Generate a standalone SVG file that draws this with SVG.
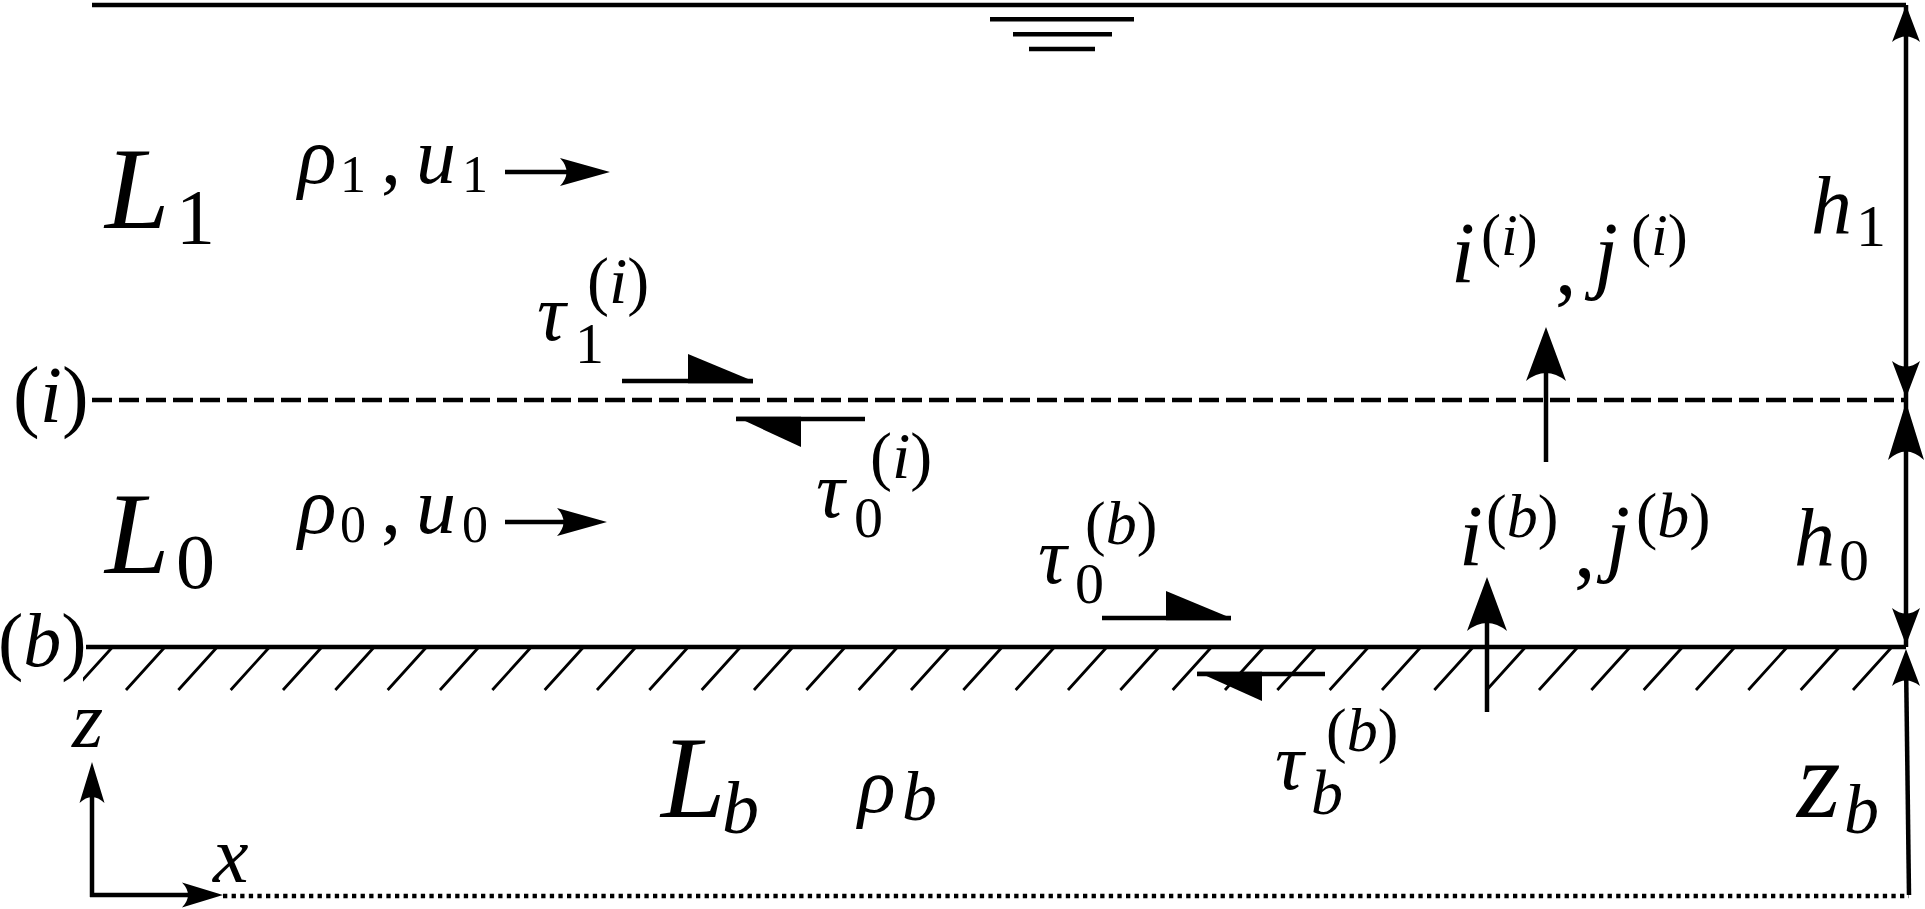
<svg xmlns="http://www.w3.org/2000/svg" width="1925" height="909" viewBox="0 0 1925 909">
<style>
 .ln{stroke:#000;fill:none;stroke-width:4.5}
 .thin{stroke:#000;fill:none;stroke-width:2.8}
 .hd{fill:#000;stroke:none}
</style>
<defs>
 <path id="ahS" d="M0,0 L-37,-14 Q-26,0 -37,14 Z"/>
 <path id="ahL" d="M0,0 L-58,-18 Q-41,0 -58,18 Z"/>
 <path id="ahF" d="M0,0 L-54,-20 Q-38,0 -54,20 Z"/>
 <path id="ahA" d="M0,0 L-41,-12.5 Q-29,0 -41,12.5 Z"/>
 <path id="ahV" d="M0,0 L-50,-14 Q-37,0 -50,14 Z"/>
 <clipPath id="hclip"><rect x="83" y="647" width="1823" height="44"/></clipPath>
</defs>
<rect width="1925" height="909" fill="#fff"/>

<g id="surface">
 <path class="ln" d="M92,5 H1906" stroke-width="5"/>
 <path class="ln" d="M990,19.3 H1134" stroke-width="3.3"/>
 <path class="ln" d="M1013,34.3 H1112" stroke-width="2.7"/>
 <path class="ln" d="M1029,49 H1095" stroke-width="2.3"/>
</g>

<g id="interface-i">
 <path class="ln" d="M92,400 H1906" stroke-width="4" stroke-dasharray="20 7"/>
</g>

<g id="bed-b">
 <path class="ln" d="M86,647 H1906"/>
 <path class="thin" clip-path="url(#hclip)" d="M73.67,690 l38,-42 M126,690 l38,-42 M178.33,690 l38,-42 M230.67,690 l38,-42 M283,690 l38,-42 M335.33,690 l38,-42 M387.67,690 l38,-42 M440,690 l38,-42 M492.33,690 l38,-42 M544.67,690 l38,-42 M597,690 l38,-42 M649.33,690 l38,-42 M701.67,690 l38,-42 M754,690 l38,-42 M806.33,690 l38,-42 M858.67,690 l38,-42 M911,690 l38,-42 M963.33,690 l38,-42 M1015.67,690 l38,-42 M1068,690 l38,-42 M1120.33,690 l38,-42 M1172.67,690 l38,-42 M1225,690 l38,-42 M1277.33,690 l38,-42 M1329.67,690 l38,-42 M1382,690 l38,-42 M1434.33,690 l38,-42 M1486.67,690 l38,-42 M1539,690 l38,-42 M1591.33,690 l38,-42 M1643.67,690 l38,-42 M1696,690 l38,-42 M1748.33,690 l38,-42 M1800.67,690 l38,-42 M1853,690 l38,-42 M1905.33,690 l38,-42"/>
</g>

<g id="datum">
 <path class="ln" d="M223,896 H1909" stroke-width="4" stroke-dasharray="4.3 4.3"/>
</g>

<g id="connectors">
 <path class="ln" d="M1906,5 V647" stroke-width="3.5"/>
 <path class="ln" d="M1909,895 L1906,660" stroke-width="3.5"/>
 <use href="#ahS" class="hd" transform="translate(1906,5) rotate(-90)"/>
 <use href="#ahS" class="hd" transform="translate(1906,398) rotate(90)"/>
 <use href="#ahL" class="hd" transform="translate(1906,402) rotate(-90)"/>
 <use href="#ahS" class="hd" transform="translate(1906,645) rotate(90)"/>
 <use href="#ahS" class="hd" transform="translate(1906,649) rotate(-90)"/>
 <path class="ln" d="M1546,462 V360" stroke-width="4"/>
 <use href="#ahF" class="hd" transform="translate(1546,327) rotate(-90)"/>
 <path class="ln" d="M1487,712 V610" stroke-width="4"/>
 <use href="#ahF" class="hd" transform="translate(1487,577) rotate(-90)"/>
 <path class="ln" d="M505,172 H590" stroke-width="3"/>
 <use href="#ahV" class="hd" transform="translate(610,172)"/>
 <path class="ln" d="M505,522 H588" stroke-width="3"/>
 <use href="#ahV" class="hd" transform="translate(607,522)"/>
 <path class="ln" d="M92,897 V785"/>
 <use href="#ahA" class="hd" transform="translate(92,762) rotate(-90)"/>
 <path class="ln" d="M90,895 H200"/>
 <use href="#ahA" class="hd" transform="translate(223,895)"/>
 <path class="ln" d="M622,381 H753"/>
 <polygon class="hd" points="688,354 753,381 753,383.2 688,383.2"/>
 <path class="ln" d="M736,419 H865"/>
 <polygon class="hd" points="736,416.8 801,416.8 801,447"/>
 <path class="ln" d="M1102,618 H1231"/>
 <polygon class="hd" points="1166,591 1231,618 1231,620.2 1166,620.2"/>
 <path class="ln" d="M1197,674 H1325"/>
 <polygon class="hd" points="1197,671.8 1262,671.8 1262,701"/>
</g>

<g id="label-i-left"><text font-family="Liberation Serif, serif" x="13" y="422" font-size="80">(<tspan font-style="italic">i</tspan>)</text></g>
<g id="label-b-left"><text font-family="Liberation Serif, serif" x="-2" y="666" font-size="76">(<tspan font-style="italic">b</tspan>)</text></g>

<g id="layer-L1"><text font-family="Liberation Serif, serif" font-style="italic" font-size="116"><tspan x="105" y="228">L</tspan><tspan font-style="normal" x="176" y="243" font-size="78">1</tspan></text></g>
<g id="layer-L0"><text font-family="Liberation Serif, serif" font-style="italic" font-size="116"><tspan x="105" y="573">L</tspan><tspan font-style="normal" x="176" y="588" font-size="78">0</tspan></text></g>
<g id="layer-Lb"><text font-family="Liberation Serif, serif" font-style="italic" font-size="116"><tspan x="661" y="817">L</tspan><tspan x="722" y="833" font-size="74">b</tspan></text></g>

<g id="props-1"><text font-family="Liberation Serif, serif" font-style="italic" font-size="80"><tspan x="298" y="183">ρ</tspan><tspan font-style="normal" x="340" y="192" font-size="52">1</tspan><tspan font-style="normal" x="381" y="183">,</tspan><tspan x="416" y="183">u</tspan><tspan font-style="normal" x="462" y="192" font-size="52">1</tspan></text></g>
<g id="props-0"><text font-family="Liberation Serif, serif" font-style="italic" font-size="80"><tspan x="298" y="533">ρ</tspan><tspan font-style="normal" x="340" y="542" font-size="52">0</tspan><tspan font-style="normal" x="381" y="533">,</tspan><tspan x="416" y="533">u</tspan><tspan font-style="normal" x="462" y="542" font-size="52">0</tspan></text></g>
<g id="props-b"><text font-family="Liberation Serif, serif" font-style="italic" font-size="78"><tspan x="858" y="812">ρ</tspan><tspan x="902" y="820" font-size="70">b</tspan></text></g>

<g id="tau1i"><text font-family="Liberation Serif, serif" font-style="italic" font-size="80"><tspan x="537" y="340">τ</tspan><tspan font-style="normal" x="575" y="363" font-size="58">1</tspan><tspan font-style="normal" x="587" y="303" font-size="66">(<tspan font-style="italic">i</tspan>)</tspan></text></g>
<g id="tau0i"><text font-family="Liberation Serif, serif" font-style="italic" font-size="80"><tspan x="816" y="517">τ</tspan><tspan font-style="normal" x="854" y="537" font-size="58">0</tspan><tspan font-style="normal" x="870" y="478" font-size="66">(<tspan font-style="italic">i</tspan>)</tspan></text></g>
<g id="tau0b"><text font-family="Liberation Serif, serif" font-style="italic" font-size="80"><tspan x="1038" y="583">τ</tspan><tspan font-style="normal" x="1075" y="603" font-size="58">0</tspan><tspan font-style="normal" x="1085" y="544" font-size="62">(<tspan font-style="italic">b</tspan>)</tspan></text></g>
<g id="taubb"><text font-family="Liberation Serif, serif" font-style="italic" font-size="80"><tspan x="1275" y="789">τ</tspan><tspan x="1311" y="814" font-size="64">b</tspan><tspan font-style="normal" x="1326" y="751" font-size="62">(<tspan font-style="italic">b</tspan>)</tspan></text></g>

<g id="flux-i"><text font-family="Liberation Serif, serif" font-style="italic" font-size="86"><tspan x="1451" y="282">i</tspan><tspan font-style="normal" x="1481" y="255" font-size="60">(<tspan font-style="italic">i</tspan>)</tspan><tspan font-style="normal" x="1555" y="294">,</tspan><tspan x="1594" y="282">j</tspan><tspan font-style="normal" x="1631" y="255" font-size="60">(<tspan font-style="italic">i</tspan>)</tspan></text></g>
<g id="flux-b"><text font-family="Liberation Serif, serif" font-style="italic" font-size="86"><tspan x="1459" y="565">i</tspan><tspan font-style="normal" x="1486" y="537" font-size="62">(<tspan font-style="italic">b</tspan>)</tspan><tspan font-style="normal" x="1574" y="577">,</tspan><tspan x="1606" y="565">j</tspan><tspan font-style="normal" x="1636" y="537" font-size="64">(<tspan font-style="italic">b</tspan>)</tspan></text></g>

<g id="dim-h1"><text font-family="Liberation Serif, serif" font-style="italic" font-size="82"><tspan x="1811" y="233">h</tspan><tspan font-style="normal" x="1856" y="246" font-size="60">1</tspan></text></g>
<g id="dim-h0"><text font-family="Liberation Serif, serif" font-style="italic" font-size="82"><tspan x="1794" y="565">h</tspan><tspan font-style="normal" x="1839" y="580" font-size="60">0</tspan></text></g>
<g id="dim-zb"><text font-family="Liberation Serif, serif" font-style="italic" font-size="112"><tspan x="1797" y="817">z</tspan><tspan x="1844" y="833" font-size="70">b</tspan></text></g>

<g id="axis-labels">
 <text font-family="Liberation Serif, serif" font-style="italic" x="72" y="747" font-size="80">z</text>
 <text font-family="Liberation Serif, serif" font-style="italic" x="213" y="882" font-size="80">x</text>
</g>
</svg>
